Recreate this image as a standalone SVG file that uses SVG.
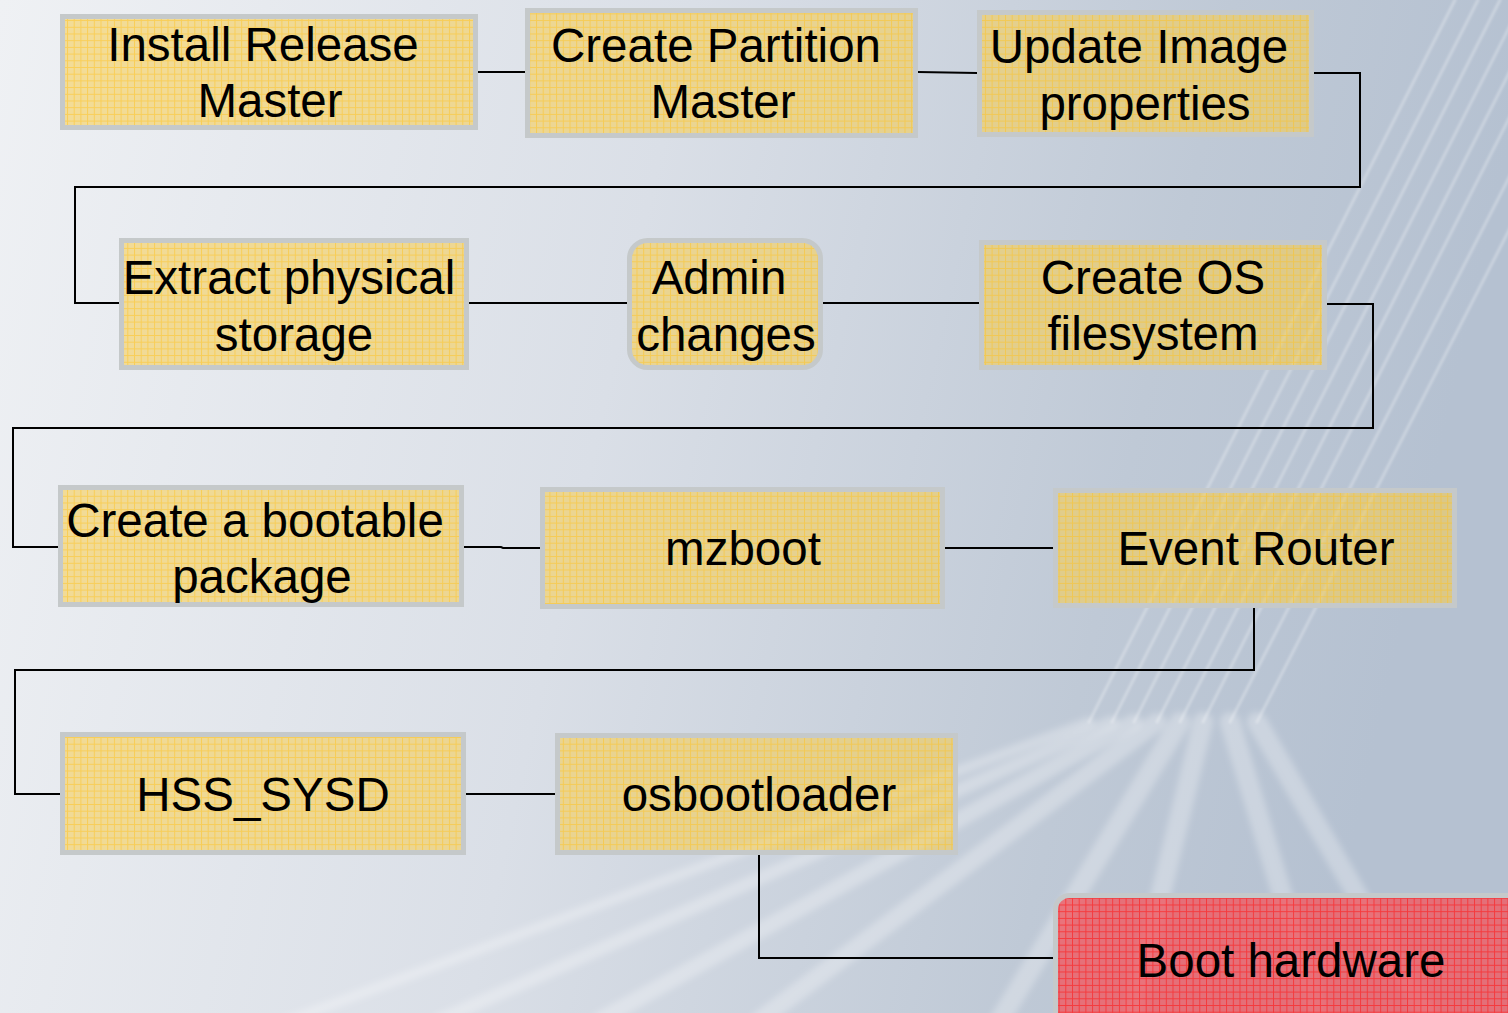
<svg xmlns="http://www.w3.org/2000/svg" width="1508" height="1013" viewBox="0 0 1508 1013">
<defs>
<linearGradient id="bg" x1="0" y1="0" x2="1" y2="0.15">
<stop offset="0" stop-color="#eff1f4"/>
<stop offset="0.45" stop-color="#dadfe7"/>
<stop offset="0.8" stop-color="#bfc9d6"/>
<stop offset="1" stop-color="#b5c1d1"/>
</linearGradient>
<pattern id="gridY" width="13.4" height="13.4" patternUnits="userSpaceOnUse">
<rect width="13.4" height="13.4" fill="#f8cd51" fill-opacity="0.57"/>
<path d="M0 0.5H13.4M0 7.2H13.4M0.5 0V13.4M7.2 0V13.4" stroke="#ffc21a" stroke-opacity="0.5" stroke-width="1"/>
</pattern>
<pattern id="gridR" width="13.4" height="13.4" patternUnits="userSpaceOnUse">
<rect width="13.4" height="13.4" fill="#f05a62" fill-opacity="0.8"/>
<path d="M0 0.5H13.4M0 7.2H13.4M0.5 0V13.4M7.2 0V13.4" stroke="#ff1818" stroke-opacity="0.6" stroke-width="1"/>
</pattern>
<filter id="soft" x="-10%" y="-10%" width="120%" height="120%"><feGaussianBlur stdDeviation="1.2"/></filter>
<filter id="softer" x="-10%" y="-10%" width="120%" height="120%"><feGaussianBlur stdDeviation="3"/></filter>
</defs>
<style>
.node rect{stroke:#c5c9ca;stroke-width:5}
.y{fill:url(#gridY)}
.r{fill:url(#gridR)}
text{font-family:"Liberation Sans",Arial,sans-serif;font-size:47.5px;fill:#000;text-anchor:middle}
#connectors path{fill:none;stroke:#000;stroke-width:2}
.st{fill:none;stroke:#ffffff;stroke-opacity:0.28;stroke-linecap:round;stroke-linejoin:round}
</style>
<rect width="1508" height="1013" fill="url(#bg)"/>
<g id="streaks-top" filter="url(#soft)">
<path class="st" stroke-width="3" d="M1455 0L1089 722"/>
<path class="st" stroke-width="3" d="M1478 0L1112 722"/>
<path class="st" stroke-width="3" d="M1500 0L1134 722"/>
<path class="st" stroke-width="3" d="M1523 0L1157 722"/>
<path class="st" stroke-width="3" d="M1546 0L1180 722"/>
<path class="st" stroke-width="3" d="M1569 0L1203 722"/>
<path class="st" stroke-width="3" d="M1600 0L1230 722"/>
<path class="st" stroke-width="3" d="M1627 0L1257 722"/>
</g>
<g id="streaks-bottom" filter="url(#softer)">
<path class="st" stroke-width="10" d="M1089 722L250 1035"/>
<path class="st" stroke-width="13" d="M1112 722L440 1020"/>
<path class="st" stroke-width="16" d="M1134 722L600 1020"/>
<path class="st" stroke-width="18" d="M1157 722L760 1020"/>
<path class="st" stroke-width="20" d="M1180 722L1000 1020"/>
<path class="st" stroke-width="20" d="M1203 722L1130 1020"/>
<path class="st" stroke-width="20" d="M1230 722L1320 1020"/>
<path class="st" stroke-width="20" d="M1257 722L1430 1020"/>
</g>
<g id="connectors">
<path d="M478 72H525"/>
<path d="M918 72L977 73"/>
<path d="M1314 73H1360V187H75V303H119"/>
<path d="M469 303H627"/>
<path d="M823 303H979"/>
<path d="M1327 304H1373V428H13V547H58"/>
<path d="M464 547H501L503 548H540"/>
<path d="M945 548H1053"/>
<path d="M1254 608V670H15V794H60"/>
<path d="M466 794H555"/>
<path d="M759 855V958H1053"/>
</g>
<g id="n1" class="node"><rect class="y" x="62.5" y="16.5" width="413" height="111"/><text x="263" y="61">Install Release</text><text x="270" y="117">Master</text></g>
<g id="n2" class="node"><rect class="y" x="527.5" y="10.5" width="388" height="125"/><text x="716" y="62">Create Partition</text><text x="723" y="118">Master</text></g>
<g id="n3" class="node"><rect class="y" x="979.5" y="12.5" width="332" height="122"/><text x="1139" y="63">Update Image</text><text x="1145" y="120">properties</text></g>
<g id="n4" class="node"><rect class="y" x="121.5" y="240.5" width="345" height="127"/><text x="289" y="294">Extract physical</text><text x="294" y="351">storage</text></g>
<g id="n5" class="node"><rect class="y" x="629.5" y="240.5" width="191" height="127" rx="18"/><text x="719" y="294">Admin</text><text x="726" y="351">changes</text></g>
<g id="n6" class="node"><rect class="y" x="981.5" y="242.5" width="343" height="125"/><text x="1153" y="294">Create OS</text><text x="1153" y="350">filesystem</text></g>
<g id="n7" class="node"><rect class="y" x="60.5" y="487.5" width="401" height="117"/><text x="255" y="537">Create a bootable</text><text x="262" y="593">package</text></g>
<g id="n8" class="node"><rect class="y" x="542.5" y="489.5" width="400" height="117"/><text x="743" y="565">mzboot</text></g>
<g id="n9" class="node"><rect class="y" x="1055.5" y="490.5" width="399" height="115"/><text x="1256" y="565">Event Router</text></g>
<g id="n10" class="node"><rect class="y" x="62.5" y="734.5" width="401" height="118"/><text x="263" y="811">HSS_SYSD</text></g>
<g id="n11" class="node"><rect class="y" x="557.5" y="735.5" width="398" height="117"/><text x="759" y="811">osbootloader</text></g>
<g id="n12" class="node"><rect class="r" x="1055.5" y="895.5" width="470" height="130" rx="14"/><text x="1291" y="977">Boot hardware</text></g>
</svg>
